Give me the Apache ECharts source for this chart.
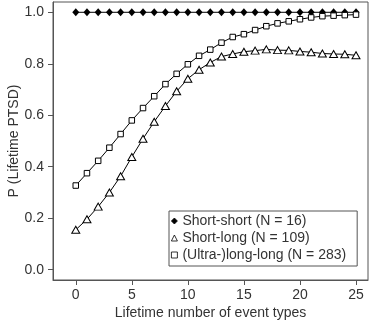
<!DOCTYPE html>
<html>
<head>
<meta charset="utf-8">
<script src="https://cdn.jsdelivr.net/npm/echarts@6/dist/echarts.min.js"></script>
<style>
  html, body { margin: 0; padding: 0; background: #fff; }
  #chart { width: 370px; height: 323px; }
</style>
</head>
<body>
<div id="chart"></div>
<script>
// Lifetime number of event types (x) and predicted probability of lifetime PTSD per group
const eventTypes = [0,1,2,3,4,5,6,7,8,9,10,11,12,13,14,15,16,17,18,19,20,21,22,23,24,25];
const shortShort = [1,1,1,1,1,1,1,1,1,1,1,1,1,1,1,1,1,1,1,1,1,1,1,1,1,1];
const shortLong = [0.155,0.196,0.245,0.300,0.363,0.438,0.509,0.575,0.636,0.693,0.742,0.777,0.805,0.828,0.838,0.847,0.851,0.856,0.853,0.852,0.848,0.845,0.840,0.838,0.837,0.833];
const ultraLongLong = [0.327,0.375,0.423,0.474,0.527,0.580,0.628,0.674,0.721,0.761,0.798,0.831,0.855,0.882,0.904,0.915,0.931,0.946,0.957,0.965,0.973,0.980,0.985,0.987,0.989,0.991];

const seriesNames = ['Short-short (N = 16)', 'Short-long (N = 109)', '(Ultra-)long-long (N = 283)'];
const xTicks = [0,5,10,15,20,25];
const yTicks = [0,0.2,0.4,0.6,0.8,1.0];

const FONT = 'Liberation Sans, Arial, Helvetica, sans-serif';
const TEXT = '#333';
const AXIS = '#555';

const pairs = ys => eventTypes.map((x, i) => [x, ys[i]]);

const chart = echarts.init(document.getElementById('chart'), null, { renderer: 'canvas' });
chart.setOption({
  animation: false,
  textStyle: { fontFamily: FONT },
  grid: {
    left: 53, right: 2, top: 2, bottom: 43,
    containLabel: false, outerBoundsMode: 'none',
    show: true, borderColor: AXIS, borderWidth: 1, backgroundColor: 'transparent'
  },
  xAxis: {
    type: 'value', min: -2.03, max: 26.07,
    name: 'Lifetime number of event types', nameLocation: 'middle', nameGap: 26,
    nameMoveOverlap: false,
    nameTextStyle: { fontFamily: FONT, fontSize: 14, color: TEXT },
    axisLine: { show: true, onZero: false, lineStyle: { color: AXIS, width: 1 } },
    axisTick: { show: true, inside: false, length: 5, customValues: xTicks, lineStyle: { color: AXIS } },
    axisLabel: { customValues: xTicks, margin: 8, fontFamily: FONT, fontSize: 14, color: TEXT },
    splitLine: { show: false }
  },
  yAxis: {
    type: 'value', min: -0.04, max: 1.04,
    name: 'P (Lifetime PTSD)', nameLocation: 'middle', nameGap: 32, nameRotate: 90,
    nameMoveOverlap: false,
    nameTextStyle: { fontFamily: FONT, fontSize: 14, color: TEXT },
    axisLine: { show: true, onZero: false, lineStyle: { color: AXIS, width: 1 } },
    axisTick: { show: true, inside: false, length: 5, customValues: yTicks, lineStyle: { color: AXIS } },
    axisLabel: {
      customValues: yTicks, margin: 9, fontFamily: FONT, fontSize: 14, color: TEXT,
      formatter: v => v.toFixed(1)
    },
    splitLine: { show: false }
  },
  legend: {
    orient: 'vertical', left: 169, top: 211,
    padding: [3, 11, 4, 2], itemGap: 3,
    itemWidth: 6, itemHeight: 6,
    borderColor: AXIS, borderWidth: 1, borderRadius: 0,
    backgroundColor: '#fff',
    itemStyle: { borderWidth: 0.8 },
    textStyle: { fontFamily: FONT, fontSize: 14, color: TEXT },
    data: [
      { name: seriesNames[0], icon: 'diamond' },
      { name: seriesNames[1], icon: 'triangle' },
      { name: seriesNames[2], icon: 'rect' }
    ]
  },
  series: [
    {
      name: seriesNames[0], type: 'line', data: pairs(shortShort),
      symbol: 'diamond', symbolSize: [7, 8], showAllSymbol: true,
      lineStyle: { color: '#000', width: 1 },
      itemStyle: { color: '#000', borderColor: '#000', borderWidth: 0 }
    },
    {
      name: seriesNames[1], type: 'line', data: pairs(shortLong),
      symbol: 'triangle', symbolSize: [8, 7], showAllSymbol: true,
      lineStyle: { color: '#000', width: 1 },
      itemStyle: { color: '#fff', borderColor: '#000', borderWidth: 1 }
    },
    {
      name: seriesNames[2], type: 'line', data: pairs(ultraLongLong),
      symbol: 'rect', symbolSize: 5.5, showAllSymbol: true,
      lineStyle: { color: '#000', width: 1 },
      itemStyle: { color: '#fff', borderColor: '#000', borderWidth: 1 }
    }
  ]
});
</script>
</body>
</html>
